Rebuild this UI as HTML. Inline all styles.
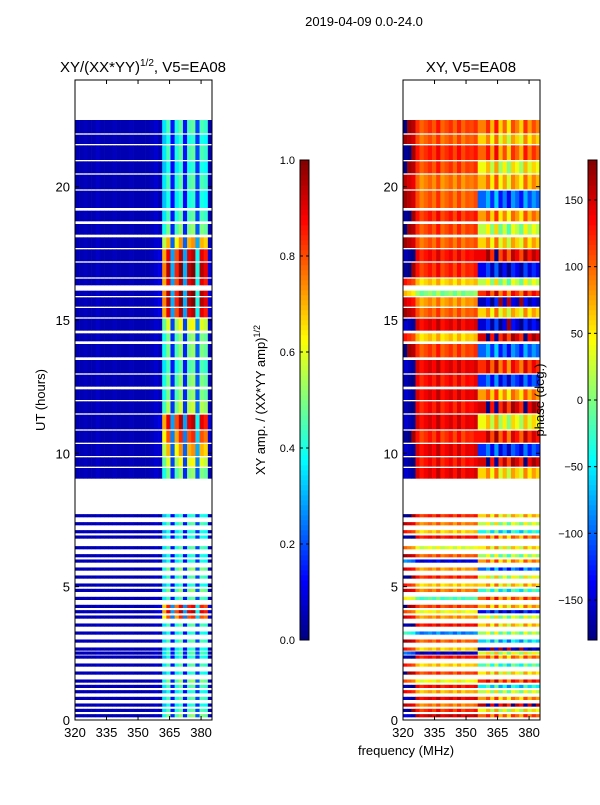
<!DOCTYPE html>
<html><head><meta charset="utf-8"><style>
body{margin:0;background:#fff;}
svg text{font-family:"Liberation Sans",sans-serif;fill:#000;}
</style></head><body>
<svg id="fig" width="600" height="800" xmlns="http://www.w3.org/2000/svg">
<rect width="600" height="800" fill="#fff"/>
<text x="364" y="26" font-size="13" text-anchor="middle">2019-04-09 0.0-24.0</text>
<text x="143" y="72" font-size="15" text-anchor="middle">XY/(XX*YY)<tspan font-size="10" dy="-6">1/2</tspan><tspan dy="6">, V5=EA08</tspan></text>
<text x="471" y="72" font-size="15" text-anchor="middle">XY, V5=EA08</text>
<g id="left"></g>
<g id="right"></g>
<g id="axes"></g>
<text x="406" y="755" font-size="13" text-anchor="middle">frequency (MHz)</text>
<text transform="translate(45,400) rotate(-90)" font-size="13" text-anchor="middle">UT (hours)</text>
<text transform="translate(265,400) rotate(-90)" font-size="13" text-anchor="middle">XY amp. / (XX*YY amp)<tspan font-size="9" dy="-5">1/2</tspan></text>
<text transform="translate(544,400) rotate(-90)" font-size="13" text-anchor="middle">phase (deg.)</text>
</svg>
<script>
// ---- data ----
const chanProfile=[0.05,0.05,0.06,0.05,0.05,0.07,0.05,0.05,0.05,0.06,0.05,0.05,0.05,0.06,0.05,0.05,0.05,0.05,0.06,0.08,0.1,0.75,0.95,0.3,0.85,1.0,0.3,0.95,1.0,0.4,0.95,0.9,0.1];
const chanPhaseOff=[70,60,50,10,-10,0,10,-5,20,-10,0,10,-10,15,-10,5,0,10,0,0,30,-20,40,-30,10,-40,20,0,-30,30,-10,20,0];
const segStart=[22.0,21.6,21.0,20.5,19.9,19.2,18.7,18.2,17.7,17.2,16.6,16.3,15.9,15.5,15.1,14.6,14.2,13.6,13.0,12.5,12.0,11.5,10.9,10.4,9.9,9.5,9.05];
const segEnd=[22.5,21.95,21.55,20.95,20.45,19.85,19.1,18.6,18.1,17.65,17.15,16.55,16.1,15.85,15.45,15.05,14.5,14.1,13.5,12.95,12.4,11.95,11.45,10.85,10.35,9.85,9.45];
const segAmp=[0.45,0.4,0.45,0.4,0.45,0.4,0.45,0.5,0.7,0.9,0.95,0.9,0.95,0.95,0.9,0.6,0.5,0.5,0.45,0.5,0.5,0.55,0.9,0.8,0.7,0.6,0.5];
const segPhaseL=[110,100,120,110,90,100,120,110,100,130,120,60,0,80,100,140,60,110,140,130,140,130,140,120,140,130,140];
const segPhaseR=[90,60,100,40,70,-100,80,20,60,140,-140,20,120,-160,60,-150,150,-100,120,-120,80,150,40,130,-120,150,60];
const lowTimes=[7.6,7.3,7.0,6.8,6.4,6.1,5.9,5.6,5.3,5.0,4.8,4.5,4.2,4.0,3.8,3.5,3.2,2.9,2.6,2.45,2.3,2.0,1.7,1.4,1.2,1.0,0.75,0.5,0.3,0.1];
const lowAmp=[0.4,0.45,0.4,0.4,0.45,0.4,0.4,0.5,0.45,0.4,0.5,0.45,0.85,0.9,0.8,0.45,0.4,0.45,0.4,0.45,0.4,0.45,0.4,0.5,0.45,0.4,0.45,0.4,0.45,0.5];
const lowPhaseL=[120,90,60,130,30,100,-150,80,120,60,90,-20,110,40,80,130,-90,100,60,-160,130,60,110,40,130,70,140,90,120,150];
const lowPhaseR=[60,20,-40,90,50,10,80,-100,30,60,-30,100,70,-140,20,60,10,-60,-170,30,90,-20,50,120,-50,20,80,160,40,100];
// ---- axes ----
const NS="http://www.w3.org/2000/svg";
const f0=320,f1=385.2,ch=chanProfile.length;
const yOf=t=>720-t*(640/24);
function jet(v){v=Math.max(0,Math.min(1,v));
 const r=Math.max(0,Math.min(1,1.5-Math.abs(4*v-3))),g=Math.max(0,Math.min(1,1.5-Math.abs(4*v-2))),b=Math.max(0,Math.min(1,1.5-Math.abs(4*v-1)));
 return `rgb(${Math.round(r*255)},${Math.round(g*255)},${Math.round(b*255)})`;}
function el(tag,attrs,parent){const e=document.createElementNS(NS,tag);for(const k in attrs)e.setAttribute(k,attrs[k]);parent.appendChild(e);return e;}
function drawPanel(g,x0,mode){
 const w=137/ch;
 const rows=[];
 segStart.forEach((s,i)=>rows.push([s,segEnd[i],segAmp[i],segPhaseL[i],segPhaseR[i]]));
 lowTimes.forEach((t,i)=>rows.push([t,t+0.12,lowAmp[i],lowPhaseL[i],lowPhaseR[i]]));
 rows.forEach((r,ri)=>{
  for(let c=0;c<ch;c++){
   let v;
   if(mode==='amp'){v=c<20?chanProfile[c]:chanProfile[c]*r[2]*1.05;}
   else{let p=(c<18?r[3]:r[4])+chanPhaseOff[c];p=((p+180)%360+360)%360-180;v=(p+180)/360;}
   const rc=el('rect',{x:(x0+c*w).toFixed(2),y:yOf(r[1]).toFixed(2),width:(w+0.3).toFixed(2),height:(yOf(r[0])-yOf(r[1])).toFixed(2),fill:jet(v)},g);
   
   
  }
 });
}
drawPanel(document.getElementById('left'),75,'amp');
drawPanel(document.getElementById('right'),403,'phase');
const ax=document.getElementById('axes');
const xTicks=[320,335,350,365,380],yTicks=[0,5,10,15,20];
[75,403].forEach((x0,pi)=>{
 const fr=el('rect',{x:x0,y:80,width:137,height:640,fill:'none',stroke:'#000','stroke-width':1},ax);
 
 
 xTicks.forEach(f=>{const x=x0+(f-f0)/(f1-f0)*137;
  el('line',{x1:x,x2:x,y1:720,y2:716,stroke:'#000'},ax);el('line',{x1:x,x2:x,y1:80,y2:84,stroke:'#000'},ax);
  const t=el('text',{x:x,y:737,'font-size':13,'text-anchor':'middle'},ax);t.textContent=f;
  
  });
 yTicks.forEach(v=>{const y=yOf(v);
  el('line',{x1:x0,x2:x0+4,y1:y,y2:y,stroke:'#000'},ax);el('line',{x1:x0+137,x2:x0+133,y1:y,y2:y,stroke:'#000'},ax);
  const t=el('text',{x:x0-5,y:y+5,'font-size':13,'text-anchor':'end'},ax);t.textContent=v;
  
  });
});
// colorbars
const cb1Ticks=[0.0,0.2,0.4,0.6,0.8,1.0],cb2Ticks=[-150,-100,-50,0,50,100,150];
function colorbar(x,lo,hi,ticks,fmt,name){
 for(let i=0;i<96;i++){el('rect',{x:x,y:640-(i+1)*5,width:9,height:5.3,fill:jet((i+0.5)/96)},ax);}
 const b=el('rect',{x:x,y:160,width:9,height:480,fill:'none',stroke:'#000'},ax);
 
 
 ticks.forEach(v=>{const y=640-(v-lo)/(hi-lo)*480;
  el('line',{x1:x,x2:x+3,y1:y,y2:y,stroke:'#000'},ax);el('line',{x1:x+9,x2:x+6,y1:y,y2:y,stroke:'#000'},ax);
  const t=el('text',{x:x-5,y:y+4,'font-size':11,'text-anchor':'end'},ax);t.textContent=fmt(v);
  
  });
}
colorbar(300,0,1,cb1Ticks,v=>v.toFixed(1),'amp-colorbar');
colorbar(588,-180,180,cb2Ticks,v=>v<0?'\u2212'+(-v):String(v),'phase-colorbar');
</script>
</body></html>
